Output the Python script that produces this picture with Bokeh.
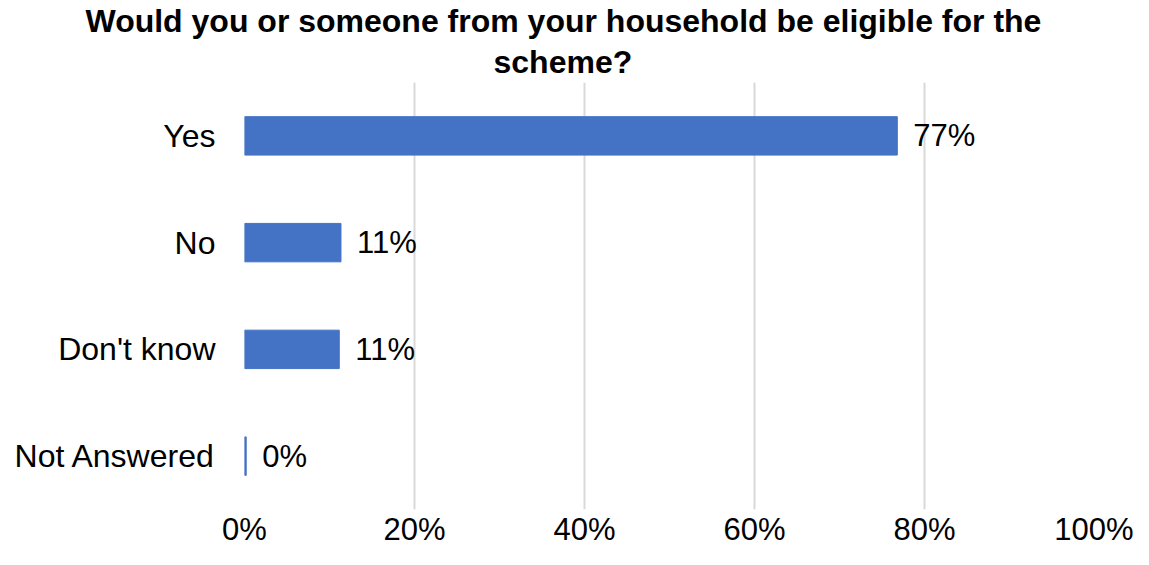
from bokeh.plotting import figure
from bokeh.models import ColumnDataSource, LabelSet, Title, NumeralTickFormatter, FixedTicker, Range1d
from bokeh.core.properties import value
from bokeh.embed import file_html
from bokeh.resources import INLINE

categories = ["Yes", "No", "Don't know", "Not Answered"]
values = [0.768, 0.1135, 0.1115, 0.002]
ticks = [0, 0.2, 0.4, 0.6, 0.8, 1.0]
title_lines = ["Would you or someone from your household be eligible for the", "scheme?"]

FONT = "Liberation Sans"
LSIZE = "31px"
labels = [f"{round(v * 100)}%" for v in values]
src = ColumnDataSource(dict(cat=categories, val=values, lab=labels))

p = figure(width=1133, height=549, y_range=list(reversed(categories)),
           x_range=Range1d(0, 1.0), output_backend="svg", toolbar_location=None)
p.min_border_left = 244
p.min_border_right = 1133 - 1094
p.min_border_top = 0
p.min_border_bottom = 0
p.outline_line_color = None

p.hbar(y="cat", right="val", left=0, height=0.36, source=src,
       fill_color="#4472C4", line_color="#4472C4")

p.add_layout(LabelSet(x="val", y="cat", text="lab", source=src, x_offset=16,
                      text_baseline="middle", text_font=value(FONT), text_font_size=LSIZE,
                      text_color="#000000"))

p.xaxis.ticker = FixedTicker(ticks=ticks)
p.xaxis.formatter = NumeralTickFormatter(format="0%")
p.xaxis.axis_line_color = None
p.xaxis.major_tick_line_color = None
p.xaxis.minor_tick_line_color = None
p.xaxis.major_tick_out = 0
p.xaxis.major_tick_in = 0
p.xaxis.minor_tick_out = 0
p.xaxis.major_label_standoff = 2
p.xaxis.major_label_text_font = FONT
p.xaxis.major_label_text_font_size = LSIZE
p.xaxis.major_label_text_color = "#000000"

p.yaxis.axis_line_color = None
p.yaxis.major_tick_line_color = None
p.yaxis.minor_tick_line_color = None
p.yaxis.major_tick_out = 0
p.yaxis.major_tick_in = 0
p.yaxis.minor_tick_out = 0
p.yaxis.major_label_standoff = 29
p.yaxis.major_label_text_font = FONT
p.yaxis.major_label_text_font_size = "32px"
p.yaxis.major_label_text_color = "#000000"

p.ygrid.grid_line_color = None
p.xgrid.ticker = FixedTicker(ticks=ticks)
p.xgrid.grid_line_color = "#d9d9d9"
p.xgrid.grid_line_width = 2

# second line first (closest to the plot), then first line
p.add_layout(Title(text=title_lines[1], align="left", offset=493 - 244, standoff=6,
                   text_font=FONT, text_font_size="32px", text_font_style="bold",
                   text_color="#000000"), "above")
p.add_layout(Title(text=title_lines[0], align="left", offset=85 - 244, standoff=0,
                   text_font=FONT, text_font_size="32px", text_font_style="bold",
                   text_color="#000000"), "above")

open("out.html", "w").write(file_html(p, INLINE))
